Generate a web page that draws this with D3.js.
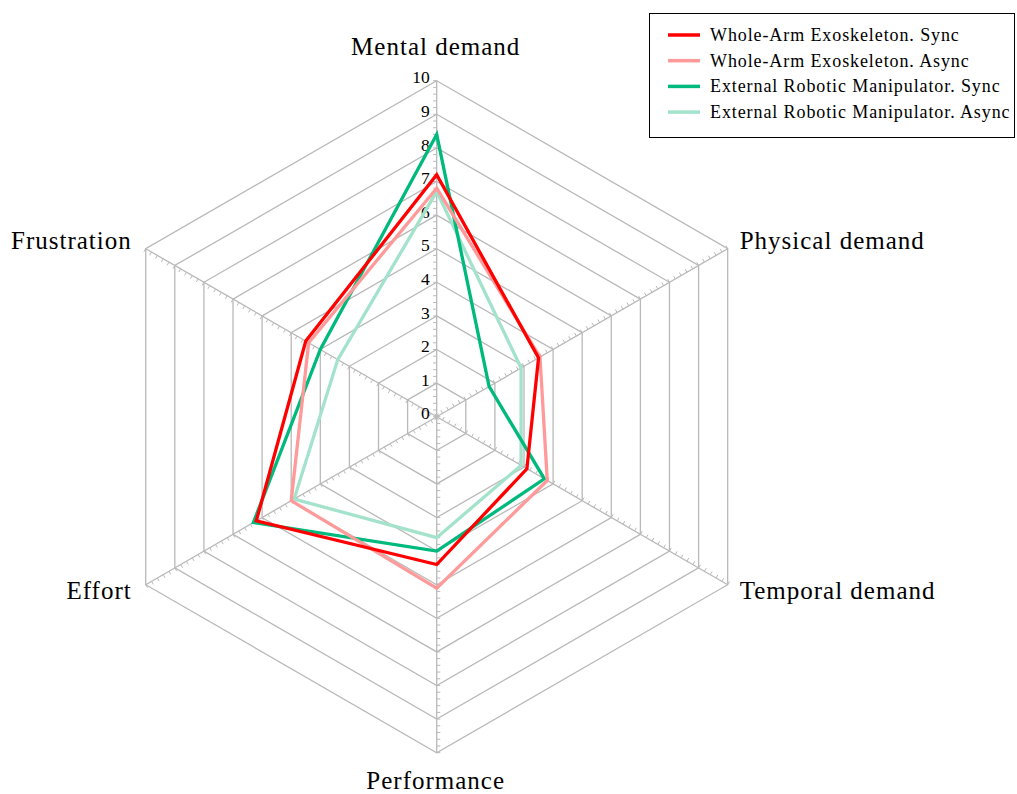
<!DOCTYPE html>
<html>
<head>
<meta charset="utf-8">
<script src="https://cdn.jsdelivr.net/npm/d3@7"></script>
<style>
  html, body { margin: 0; padding: 0; background: #fff; }
  svg { display: block; }
  text { font-family: "Liberation Serif", "DejaVu Serif", serif; fill: #000; }
</style>
</head>
<body>
<svg id="chart" width="1017" height="794"></svg>
<script>
// NASA-TLX workload dimensions, clockwise from the top
const dimensions = ["Mental demand", "Physical demand", "Temporal demand",
                    "Performance", "Effort", "Frustration"];

// Mean scores per condition, in the order of `dimensions`
const exoSync    = [7.2, 3.5, 3.1, 4.4, 6.2, 4.5];
const exoAsync   = [6.8, 3.55, 3.8, 5.1, 5.0, 4.4];
const manipSync  = [8.4, 1.8, 3.7, 4.0, 6.3, 4.0];
const manipAsync = [6.7, 2.9, 2.9, 3.6, 4.9, 3.4];

const seriesNames = ["Whole-Arm Exoskeleton. Sync", "Whole-Arm Exoskeleton. Async",
                     "External Robotic Manipulator. Sync", "External Robotic Manipulator. Async"];
const seriesColors = ["#ff0000", "#ff9a9a", "#00b97c", "#a3e2cb"];

const tickValues = d3.range(0, 11);
const minorTickValues = d3.range(0, 10.0001, 0.2);

const series = [exoSync, exoAsync, manipSync, manipAsync].map((values, i) => ({
  name: seriesNames[i], color: seriesColors[i], values
}));

const svg = d3.select("#chart");
const cx = 436.7, cy = 416.7;
const g = svg.append("g").attr("transform", `translate(${cx},${cy})`);

const r = d3.scaleLinear().domain([0, 10]).range([0, 336]);
const angle = d3.scalePoint().domain(dimensions).range([0, 2 * Math.PI * 5 / 6]);
// screen position for a value along an axis (angle measured clockwise from 12 o'clock)
const pos = (dim, v) => {
  const a = angle(dim);
  return [r(v) * Math.sin(a), -r(v) * Math.cos(a)];
};

const gridColor = "#b9b9b9";

// concentric hexagon rings
const ringLine = d3.lineRadial().angle(d => angle(d)).curve(d3.curveLinearClosed);
g.append("g").selectAll("path")
  .data(tickValues.filter(v => v > 0))
  .join("path")
  .attr("d", v => ringLine.radius(() => r(v))(dimensions))
  .attr("fill", "none")
  .attr("stroke", gridColor)
  .attr("stroke-width", 1.3);

// spokes with minor ticks
const axes = g.append("g");
dimensions.forEach(dim => {
  const [x1, y1] = pos(dim, 10);
  axes.append("line")
    .attr("x1", 0).attr("y1", 0).attr("x2", x1).attr("y2", y1)
    .attr("stroke", gridColor).attr("stroke-width", 1.3);
  const a = angle(dim);
  // tick direction: axis direction rotated a quarter turn counter-clockwise
  const tx = -Math.cos(a), ty = -Math.sin(a);
  const len = 3.6;
  axes.append("g").selectAll("line")
    .data(minorTickValues)
    .join("line")
    .attr("x1", v => pos(dim, v)[0]).attr("y1", v => pos(dim, v)[1])
    .attr("x2", v => pos(dim, v)[0] + tx * len).attr("y2", v => pos(dim, v)[1] + ty * len)
    .attr("stroke", gridColor).attr("stroke-width", 1);
});

// numeric tick labels along the top axis
g.append("g").selectAll("text")
  .data(tickValues)
  .join("text")
  .attr("x", -7)
  .attr("y", v => pos(dimensions[0], v)[1] - 3.5)
  .attr("dy", "0.35em")
  .attr("text-anchor", "end")
  .style("font-size", "17.5px")
  .text(v => v);

// dimension labels around the outside
g.append("g").selectAll("text")
  .data(dimensions)
  .join("text")
  .each(function (dim) {
    const [x, y] = pos(dim, 10);
    const sx = Math.sin(angle(dim));
    const sy = -Math.cos(angle(dim));
    const t = d3.select(this);
    if (Math.abs(sx) < 0.01) {
      t.attr("text-anchor", "middle").attr("x", x - 1)
       .attr("y", sy < 0 ? y - 26 : y + 36.5);
    } else {
      t.attr("text-anchor", sx > 0 ? "start" : "end")
       .attr("x", x + (sx > 0 ? 12 : -14))
       .attr("y", sy < 0 ? y + 0.5 : y + 14.5);
    }
  })
  .style("font-size", "25px")
  .style("letter-spacing", "1px")
  .text(d => d);

// score polygons; first series drawn last so it sits on top
const scoreLine = d3.lineRadial()
  .angle((d, i) => angle(dimensions[i]))
  .radius(d => r(d))
  .curve(d3.curveLinearClosed);

g.append("g").selectAll("path")
  .data(series.slice().reverse())
  .join("path")
  .attr("d", s => scoreLine(s.values))
  .attr("fill", "none")
  .attr("stroke", s => s.color)
  .attr("stroke-width", 3.3)
  .attr("stroke-linejoin", "miter")
  .attr("stroke-miterlimit", 10);

// legend
const legend = svg.append("g").attr("transform", "translate(649.5,13.5)");
legend.append("rect")
  .attr("width", 365).attr("height", 124)
  .attr("fill", "#fff").attr("stroke", "#000").attr("stroke-width", 1);
const items = legend.selectAll("g.item")
  .data(series)
  .join("g")
  .attr("class", "item")
  .attr("transform", (d, i) => `translate(0,${21.5 + i * 25.7})`);
items.append("line")
  .attr("x1", 18.5).attr("x2", 50.5)
  .attr("stroke", d => d.color).attr("stroke-width", 3.5);
items.append("text")
  .attr("x", 60.5).attr("y", 6)
  .style("font-size", "18px")
  .style("letter-spacing", "0.9px")
  .text(d => d.name);
</script>
</body>
</html>
